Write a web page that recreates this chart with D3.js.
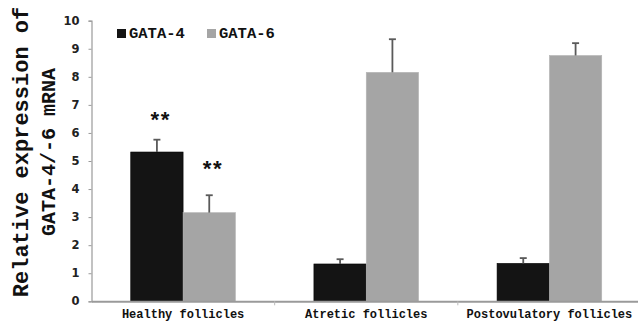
<!DOCTYPE html>
<html>
<head>
<meta charset="utf-8">
<script src="https://cdn.jsdelivr.net/npm/d3@7"></script>
<style>
  body { margin: 0; background: #fff; }
  svg { display: block; }
</style>
</head>
<body>
<div id="viz"></div>
<script>
// Data
const categories = ["Healthy follicles", "Atretic follicles", "Postovulatory follicles"];
const genes = ["GATA-4", "GATA-6"];
const gata4Values = [5.32, 1.33, 1.35];
const gata4Errors = [0.44, 0.17, 0.19];
const gata6Values = [3.16, 8.16, 8.76];
const gata6Errors = [0.62, 1.18, 0.44];
const gata4Marks = ["**", "", ""];
const gata6Marks = ["**", "", ""];
const yTicks = [0, 1, 2, 3, 4, 5, 6, 7, 8, 9, 10];

const dims = { width: 638, height: 321 };
const plot = { left: 91.5, right: 641, top: 20.7, bottom: 301.3 };

const colors = { "GATA-4": "#141414", "GATA-6": "#a5a5a5" };

// build rows for drawing
const rows = [];
categories.forEach((c, i) => {
    rows.push({ cat: c, gene: "GATA-4", value: gata4Values[i], err: gata4Errors[i], mark: gata4Marks[i] });
    rows.push({ cat: c, gene: "GATA-6", value: gata6Values[i], err: gata6Errors[i], mark: gata6Marks[i] });
});

const svg = d3.select("#viz")
    .append("svg")
    .attr("width", dims.width)
    .attr("height", dims.height);

const x = d3.scaleBand()
    .domain(categories)
    .range([plot.left, plot.right])
    .padding(0);

const xSub = d3.scaleBand()
    .domain(genes)
    .range([0, x.bandwidth()])
    .paddingInner(0)
    .paddingOuter(0.75);

const y = d3.scaleLinear()
    .domain([0, 10])
    .range([plot.bottom, plot.top]);

// bars
svg.selectAll("rect.bar")
    .data(rows)
    .enter()
    .append("rect")
    .attr("class", "bar")
    .attr("x", d => x(d.cat) + xSub(d.gene))
    .attr("y", d => y(d.value))
    .attr("width", xSub.bandwidth())
    .attr("height", d => y(0) - y(d.value))
    .attr("fill", d => colors[d.gene])
    .attr("stroke", d => d.gene === "GATA-6" ? "#b5b5b5" : "#000")
    .attr("stroke-width", 0.6);

// error bars (upper only)
const errG = svg.append("g")
    .attr("stroke", "#5a5a5a")
    .attr("stroke-width", 1.8);

rows.forEach(d => {
    const cx = x(d.cat) + xSub(d.gene) + xSub.bandwidth() / 2;
    errG.append("line")
        .attr("x1", cx).attr("x2", cx)
        .attr("y1", y(d.value)).attr("y2", y(d.value + d.err));
    errG.append("line")
        .attr("x1", cx - 3.5).attr("x2", cx + 3.5)
        .attr("y1", y(d.value + d.err)).attr("y2", y(d.value + d.err));
});

// significance stars
svg.selectAll("text.sig")
    .data(rows.filter(d => d.mark))
    .enter()
    .append("text")
    .attr("class", "sig")
    .attr("x", d => x(d.cat) + xSub(d.gene) + xSub.bandwidth() / 2 + 1.5)
    .attr("y", d => y(d.value + d.err) + (d.gene === "GATA-6" ? -18 : -12))
    .attr("text-anchor", "middle")
    .attr("font-family", "'Liberation Mono', 'Courier New', monospace")
    .attr("font-weight", "bold")
    .attr("font-size", "22px")
    .attr("letter-spacing", "-3px")
    .attr("fill", "#111")
    .text(d => d.mark);

// y axis
const yAxis = d3.axisLeft(y)
    .tickValues(yTicks)
    .tickSize(3)
    .tickPadding(9)
    .tickFormat(d3.format("d"));

const gy = svg.append("g")
    .attr("transform", `translate(${plot.left}, 0)`)
    .call(yAxis);
gy.select(".domain").attr("stroke", "#9a9a9a").attr("stroke-width", 1.2);
gy.selectAll(".tick line").attr("stroke", "#9a9a9a");
gy.selectAll(".tick text")
    .attr("font-family", "'DejaVu Sans', Verdana, sans-serif")
    .attr("font-weight", "bold")
    .attr("font-size", "11.5px")
    .attr("fill", "#222");

// x axis
const xAxis = d3.axisBottom(x).tickSize(0).tickPadding(8);
const gx = svg.append("g")
    .attr("transform", `translate(0, ${plot.bottom})`)
    .call(xAxis);
gx.select(".domain").attr("stroke", "#9a9a9a").attr("stroke-width", 2);
gx.selectAll(".tick text")
    .attr("font-family", "'Liberation Mono', 'Courier New', monospace")
    .attr("font-weight", "bold")
    .attr("font-size", "12px")
    .attr("fill", "#111");

// category separator ticks
svg.append("g")
    .selectAll("line")
    .data(categories.slice(1))
    .enter()
    .append("line")
    .attr("x1", d => x(d)).attr("x2", d => x(d))
    .attr("y1", plot.bottom).attr("y2", plot.bottom + 4)
    .attr("stroke", "#bbb");

// y axis title
const yTitle = svg.append("text")
    .attr("transform", "translate(0, 152) rotate(-90)")
    .attr("text-anchor", "middle")
    .attr("font-family", "'Liberation Mono', 'Courier New', monospace")
    .attr("font-weight", "bold")
    .attr("fill", "#111");
yTitle.append("tspan").attr("x", 0).attr("y", 28).attr("font-size", "22px").text("Relative expression of");
yTitle.append("tspan").attr("x", 0).attr("y", 55).attr("font-size", "20px").text("GATA-4/-6 mRNA");

// legend
const legend = svg.append("g")
    .selectAll("g")
    .data(genes)
    .enter()
    .append("g")
    .attr("transform", (d, i) => `translate(${117 + i * 90}, 29)`);
legend.append("rect")
    .attr("width", 9).attr("height", 9)
    .attr("fill", d => colors[d]);
legend.append("text")
    .attr("x", 12)
    .attr("y", 9)
    .attr("font-family", "'Liberation Mono', 'Courier New', monospace")
    .attr("font-weight", "bold")
    .attr("font-size", "15.5px")
    .attr("fill", "#111")
    .text(d => d);
</script>
</body>
</html>
